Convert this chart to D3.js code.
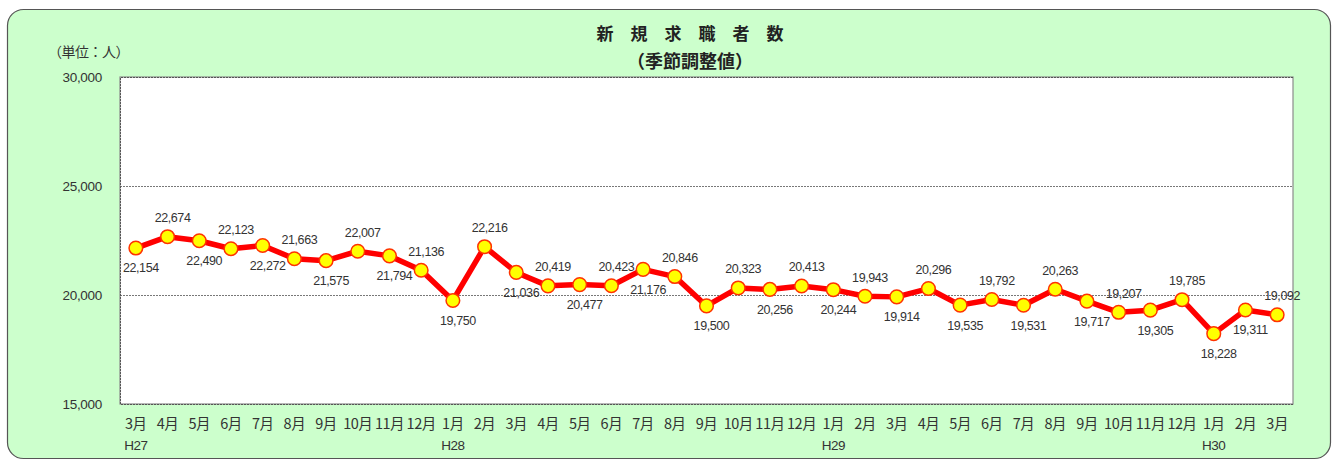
<!DOCTYPE html>
<html>
<head>
<meta charset="utf-8">
<script src="https://cdn.jsdelivr.net/npm/d3@7"></script>
<style>
    body { margin: 0; background: #ffffff; }
    svg { display: block; }
</style>
</head>
<body>
<script>
    // 月ラベルと元号ラベル
    var months = ["3月", "4月", "5月", "6月", "7月", "8月", "9月", "10月", "11月", "12月",
                  "1月", "2月", "3月", "4月", "5月", "6月", "7月", "8月", "9月", "10月", "11月", "12月",
                  "1月", "2月", "3月", "4月", "5月", "6月", "7月", "8月", "9月", "10月", "11月", "12月",
                  "1月", "2月", "3月"];
    var years = {0: "H27", 10: "H28", 22: "H29", 34: "H30"};

    // 新規求職者数（季節調整値）
    var values = [22154, 22674, 22490, 22123, 22272, 21663, 21575, 22007, 21794, 21136,
                  19750, 22216, 21036, 20419, 20477, 20423, 21176, 20846, 19500, 20323, 20256, 20413,
                  20244, 19943, 19914, 20296, 19535, 19792, 19531, 20263, 19717, 19207, 19305, 19785,
                  18228, 19311, 19092];

    var yTicks = [15000, 20000, 25000, 30000];

    var W = 1333, H = 460;
    var plotL = 120, plotR = 1293, plotT = 77, plotB = 404;

    var svg = d3.select("body")
                .append("svg")
                .attr("width", W)
                .attr("height", H);

    // 外枠
    svg.append("rect")
        .attr("x", 7.5).attr("y", 9.5)
        .attr("width", 1323).attr("height", 449)
        .attr("rx", 16).attr("ry", 16)
        .attr("fill", "#ccffcc")
        .attr("stroke", "#555555")
        .attr("stroke-width", 1.2);

    var font = "'Liberation Sans', Arial, 'Noto Sans CJK JP', sans-serif";
    var jfont = "'Noto Sans CJK JP', sans-serif";

    var xScale = d3.scaleBand()
        .domain(d3.range(values.length))
        .range([plotL, plotR]);

    var yScale = d3.scaleLinear()
        .domain([15000, 30000])
        .range([plotB, plotT]);

    function cx(i) { return xScale(i) + xScale.bandwidth() / 2; }

    // プロットエリア
    svg.append("rect")
        .attr("x", plotL).attr("y", plotT)
        .attr("width", plotR - plotL).attr("height", plotB - plotT)
        .attr("fill", "#ffffff")
        .attr("stroke", "#8a8a8a")
        .attr("stroke-width", 1.2);

    // 目盛線
    var yAxis = svg.append("g")
        .attr("transform", "translate(" + plotL + ",0)")
        .call(d3.axisLeft(yScale).tickValues(yTicks)
              .tickSize(-(plotR - plotL)).tickPadding(18)
              .tickFormat(d3.format(",")));

    yAxis.select(".domain").attr("stroke", "#555").attr("stroke-dasharray", "2 1");
    yAxis.selectAll("line")
        .attr("stroke", "#555")
        .attr("stroke-width", 0.8)
        .attr("stroke-dasharray", "2 1")
        .filter(function(d){ return d == 15000 || d == 30000; })
        .remove();
    yAxis.selectAll("text")
        .style("font-family", font)
        .style("font-size", "13.5px")
        .style("letter-spacing", "-0.3px")
        .attr("fill", "#333");

    // 折れ線
    var line = d3.line()
        .x(function(d, i){ return cx(i); })
        .y(function(d){ return yScale(d); });

    svg.append("path")
        .datum(values)
        .attr("fill", "none")
        .attr("stroke", "#ff0000")
        .attr("stroke-width", 5.5)
        .attr("stroke-linejoin", "round")
        .attr("d", line);

    svg.append("g")
        .selectAll("circle")
        .data(values)
        .enter()
        .append("circle")
        .attr("cx", function(d, i){ return cx(i); })
        .attr("cy", function(d){ return yScale(d); })
        .attr("r", 6.8)
        .attr("fill", "#ffff00")
        .attr("stroke", "#ff3300")
        .attr("stroke-width", 1.5);

    // データラベル（ほぼ交互に上下）
    function isAbove(i) {
        if (i == values.length - 2) return false;
        if (i == values.length - 1) return true;
        return i % 2 == 1;
    }

    svg.append("g")
        .selectAll("text")
        .data(values)
        .enter()
        .append("text")
        .attr("x", function(d, i){ return cx(i) + 5; })
        .attr("y", function(d, i){ return yScale(d) + (isAbove(i) ? -19 : 20); })
        .attr("dy", "0.35em")
        .attr("text-anchor", "middle")
        .style("font-family", font)
        .style("font-size", "12.5px")
        .style("letter-spacing", "-0.4px")
        .attr("fill", "#333")
        .text(function(d){ return d3.format(",")(d); });

    // X軸ラベル
    svg.append("g")
        .selectAll("text")
        .data(months)
        .enter()
        .append("text")
        .attr("x", function(d, i){ return cx(i); })
        .attr("y", 424)
        .attr("dy", "0.35em")
        .attr("text-anchor", "middle")
        .style("font-family", jfont)
        .style("font-size", "14.5px")
        .style("letter-spacing", "-0.5px")
        .attr("fill", "#333")
        .text(function(d){ return d; });

    svg.append("g")
        .selectAll("text")
        .data(Object.keys(years))
        .enter()
        .append("text")
        .attr("x", function(d){ return cx(+d); })
        .attr("y", 445)
        .attr("dy", "0.35em")
        .attr("text-anchor", "middle")
        .style("font-family", font)
        .style("font-size", "13.5px")
        .style("letter-spacing", "-0.5px")
        .attr("fill", "#333")
        .text(function(d){ return years[d]; });

    // タイトル
    svg.append("text")
        .attr("x", 690).attr("y", 34)
        .attr("dy", "0.35em")
        .attr("text-anchor", "middle")
        .style("font-family", jfont)
        .style("font-size", "17px")
        .style("font-weight", "bold")
        .attr("fill", "#222")
        .text("新　規　求　職　者　数");

    svg.append("text")
        .attr("x", 690).attr("y", 62)
        .attr("dy", "0.35em")
        .attr("text-anchor", "middle")
        .style("font-family", jfont)
        .style("font-size", "18px")
        .style("font-weight", "bold")
        .attr("fill", "#222")
        .text("（季節調整値）");

    svg.append("text")
        .attr("x", 48).attr("y", 52)
        .attr("dy", "0.35em")
        .style("font-family", jfont)
        .style("font-size", "14px")
        .style("letter-spacing", "-0.5px")
        .attr("fill", "#333")
        .text("（単位：人）");
</script>
</body>
</html>
